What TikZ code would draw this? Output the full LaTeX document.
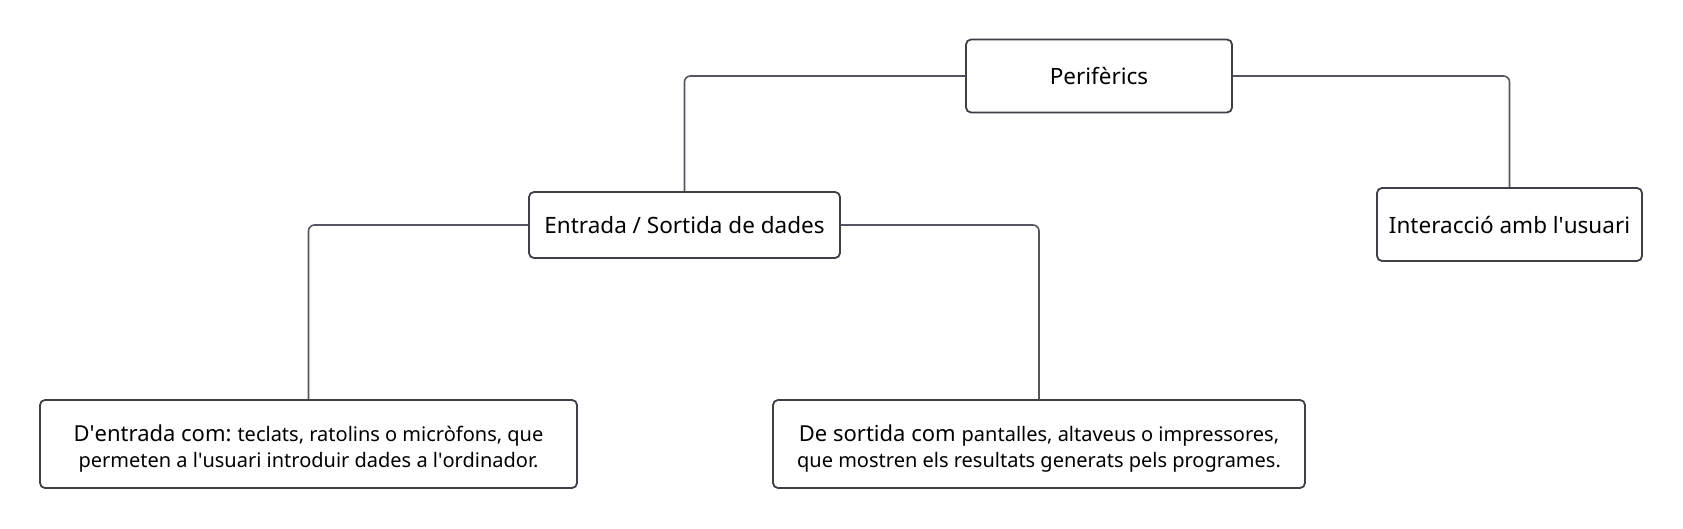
\documentclass[tikz,border=0pt]{standalone}
\usepackage{fontspec}
\setmainfont{Noto Sans}
\definecolor{edge}{HTML}{3F3F48}
\definecolor{wire}{HTML}{55555F}
\newcommand{\ap}{\textquotesingle}
\newcommand{\bigf}{\fontsize{22}{26}\selectfont}
\begin{document}
\begin{tikzpicture}[x=1pt,y=-1pt,
  box/.style={draw=edge,line width=1.8pt,rounded corners=5pt,fill=white,inner sep=0pt,align=center,font=\fontsize{22.5}{26}\selectfont},
  txt/.style={inner sep=0pt,align=center,font=\fontsize{20}{26}\selectfont},
  wire/.style={draw=wire,line width=1.6pt,rounded corners=6pt}]
\useasboundingbox[fill=white] (0,0) rectangle (1683,529);
\node[box,minimum width=266pt,minimum height=73pt] (per) at (1099,76) {Perifèrics};
\node[box,minimum width=311pt,minimum height=66pt] (es) at (684.5,225) {Entrada / Sortida de dades};
\node[box,minimum width=265pt,minimum height=73pt] (int) at (1509.5,224.5) {Interacció amb l\ap usuari};
\node[box,minimum width=537pt,minimum height=88pt] (ent) at (308.5,444) {};
\node[txt] (entT) at (308.5,449)
  {{\bigf D\ap entrada com:}\hspace{6pt}teclats, ratolins o micròfons, que\\
   permeten a l\ap usuari introduir dades a l\ap ordinador.};
\node[box,minimum width=532pt,minimum height=88pt] (sor) at (1039,444) {};
\node[txt] (sorT) at (1039,449)
  {{\bigf De sortida com}\hspace{6pt}pantalles, altaveus o impressores,\\
   que mostren els resultats generats pels programes.};
\draw[wire] (per.west) -| (es.north);
\draw[wire] (per.east) -| (int.north);
\draw[wire] (es.west) -| (ent.north);
\draw[wire] (es.east) -| (sor.north);
\end{tikzpicture}
\end{document}
